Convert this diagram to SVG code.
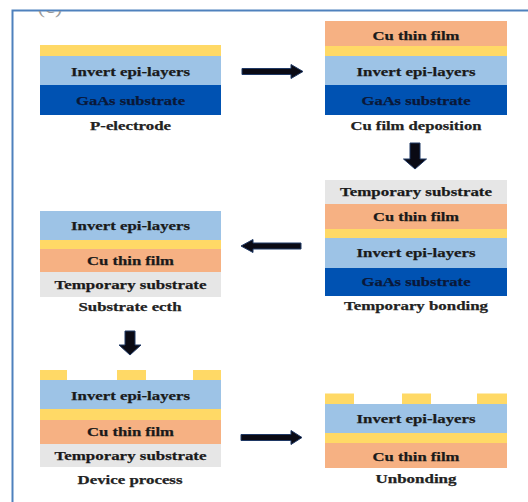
<svg xmlns="http://www.w3.org/2000/svg" width="528" height="502" viewBox="0 0 528 502">
  <defs>
    <style>
      .yl { fill: #FFD966; }
      .lb { fill: #9DC3E6; }
      .db { fill: #0052B2; }
      .or { fill: #F6B183; }
      .gr { fill: #E6E6E6; }
      .t { font-family: "Liberation Serif", "Times New Roman", serif; font-weight: bold; font-size: 13.5px; fill: #1a1a1a; stroke: #1a1a1a; stroke-width: 0.25px; text-anchor: middle; }
      .td { fill: #0a1838; stroke: #0a1838; }
      .cap { font-family: "Liberation Serif", "Times New Roman", serif; font-weight: bold; font-size: 13.5px; fill: #222; stroke: #222; stroke-width: 0.25px; text-anchor: middle; }
      .arr { fill: #0a0a14; stroke: #1F3864; stroke-width: 1; stroke-linejoin: miter; }
    </style>
    <clipPath id="topclip"><rect x="0" y="11" width="528" height="20"/></clipPath>
  </defs>
  <rect x="0" y="0" width="528" height="502" fill="#ffffff"/>
  <path d="M12.5,502 V10.5 H528" fill="none" stroke="#4F81BD" stroke-width="2"/>
  <text x="50" y="13" clip-path="url(#topclip)" font-family="Liberation Serif, serif" font-size="20" fill="#999" text-anchor="middle" textLength="25" lengthAdjust="spacingAndGlyphs">(c)</text>

  <g id="p-electrode">
    <rect class="yl" x="40" y="45" width="181" height="11"/>
    <rect class="lb" x="40" y="56" width="181" height="29"/>
    <rect class="db" x="40" y="85" width="181" height="30"/>
    <text class="t" x="130.5" y="75.5" textLength="119" lengthAdjust="spacingAndGlyphs">Invert epi-layers</text>
    <text class="t td" x="130.5" y="104.5" textLength="109" lengthAdjust="spacingAndGlyphs">GaAs substrate</text>
    <text class="cap" x="130.5" y="129.5" textLength="81" lengthAdjust="spacingAndGlyphs">P-electrode</text>
  </g>

  <g id="cu-film-deposition">
    <rect class="or" x="325" y="21" width="182" height="25"/>
    <rect class="yl" x="325" y="46" width="182" height="10"/>
    <rect class="lb" x="325" y="56" width="182" height="29"/>
    <rect class="db" x="325" y="85" width="182" height="30"/>
    <text class="t" x="416" y="39.5" textLength="87" lengthAdjust="spacingAndGlyphs">Cu thin film</text>
    <text class="t" x="416" y="75.5" textLength="119" lengthAdjust="spacingAndGlyphs">Invert epi-layers</text>
    <text class="t td" x="416" y="104.5" textLength="109" lengthAdjust="spacingAndGlyphs">GaAs substrate</text>
    <text class="cap" x="416" y="129.5" textLength="131" lengthAdjust="spacingAndGlyphs">Cu film deposition</text>
  </g>

  <g id="temporary-bonding">
    <rect class="gr" x="325" y="180" width="182" height="24"/>
    <rect class="or" x="325" y="204" width="182" height="25"/>
    <rect class="yl" x="325" y="229" width="182" height="9"/>
    <rect class="lb" x="325" y="238" width="182" height="30"/>
    <rect class="db" x="325" y="268" width="182" height="28"/>
    <text class="t" x="416" y="196" textLength="152" lengthAdjust="spacingAndGlyphs">Temporary substrate</text>
    <text class="t" x="416" y="221" textLength="86" lengthAdjust="spacingAndGlyphs">Cu thin film</text>
    <text class="t" x="416" y="257" textLength="119" lengthAdjust="spacingAndGlyphs">Invert epi-layers</text>
    <text class="t td" x="416" y="286" textLength="109" lengthAdjust="spacingAndGlyphs">GaAs substrate</text>
    <text class="cap" x="416" y="309.5" textLength="144" lengthAdjust="spacingAndGlyphs">Temporary bonding</text>
  </g>

  <g id="substrate-ecth">
    <rect class="lb" x="40" y="211" width="181" height="29"/>
    <rect class="yl" x="40" y="240" width="181" height="9"/>
    <rect class="or" x="40" y="249" width="181" height="23"/>
    <rect class="gr" x="40" y="272" width="181" height="25"/>
    <text class="t" x="130.5" y="229.5" textLength="119" lengthAdjust="spacingAndGlyphs">Invert epi-layers</text>
    <text class="t" x="130.5" y="264.5" textLength="87" lengthAdjust="spacingAndGlyphs">Cu thin film</text>
    <text class="t" x="130.5" y="289" textLength="152" lengthAdjust="spacingAndGlyphs">Temporary substrate</text>
    <text class="cap" x="130" y="310.5" textLength="103" lengthAdjust="spacingAndGlyphs">Substrate ecth</text>
  </g>

  <g id="device-process">
    <rect class="yl" x="40" y="370" width="27" height="10"/>
    <rect class="yl" x="117" y="370" width="29" height="10"/>
    <rect class="yl" x="193" y="370" width="28" height="10"/>
    <rect class="lb" x="40" y="380" width="181" height="29"/>
    <rect class="yl" x="40" y="409" width="181" height="11"/>
    <rect class="or" x="40" y="420" width="181" height="24"/>
    <rect class="gr" x="40" y="444" width="181" height="23"/>
    <text class="t" x="130.5" y="399.5" textLength="119" lengthAdjust="spacingAndGlyphs">Invert epi-layers</text>
    <text class="t" x="130.5" y="435.5" textLength="87" lengthAdjust="spacingAndGlyphs">Cu thin film</text>
    <text class="t" x="130.5" y="460" textLength="152" lengthAdjust="spacingAndGlyphs">Temporary substrate</text>
    <text class="cap" x="130" y="483.5" textLength="105" lengthAdjust="spacingAndGlyphs">Device process</text>
  </g>

  <g id="unbonding">
    <rect class="yl" x="325" y="393.5" width="29" height="10.5"/>
    <rect class="yl" x="402" y="393.5" width="29" height="10.5"/>
    <rect class="yl" x="477" y="393.5" width="30" height="10.5"/>
    <rect class="lb" x="325" y="404" width="182" height="29"/>
    <rect class="yl" x="325" y="433" width="182" height="10"/>
    <rect class="or" x="325" y="443" width="182" height="25"/>
    <text class="t" x="416" y="423" textLength="119" lengthAdjust="spacingAndGlyphs">Invert epi-layers</text>
    <text class="t" x="416" y="460.5" textLength="87" lengthAdjust="spacingAndGlyphs">Cu thin film</text>
    <text class="cap" x="416" y="483" textLength="81" lengthAdjust="spacingAndGlyphs">Unbonding</text>
  </g>

  <g id="connectors">
    <polygon class="arr" points="242,68.5 291,68.5 291,64.5 303,71.5 291,78.5 291,74.5 242,74.5"/>
    <polygon class="arr" points="410,143 420,143 420,159 426.5,159 415,169 403.5,159 410,159"/>
    <polygon class="arr" points="301,243 253,243 253,239.5 241,246 253,252.5 253,249 301,249"/>
    <polygon class="arr" points="125,331 135,331 135,345 141,345 130,355 119,345 125,345"/>
    <polygon class="arr" points="241,434.5 291,434.5 291,430.5 302,437.5 291,444.5 291,440.5 241,440.5"/>
  </g>
</svg>
